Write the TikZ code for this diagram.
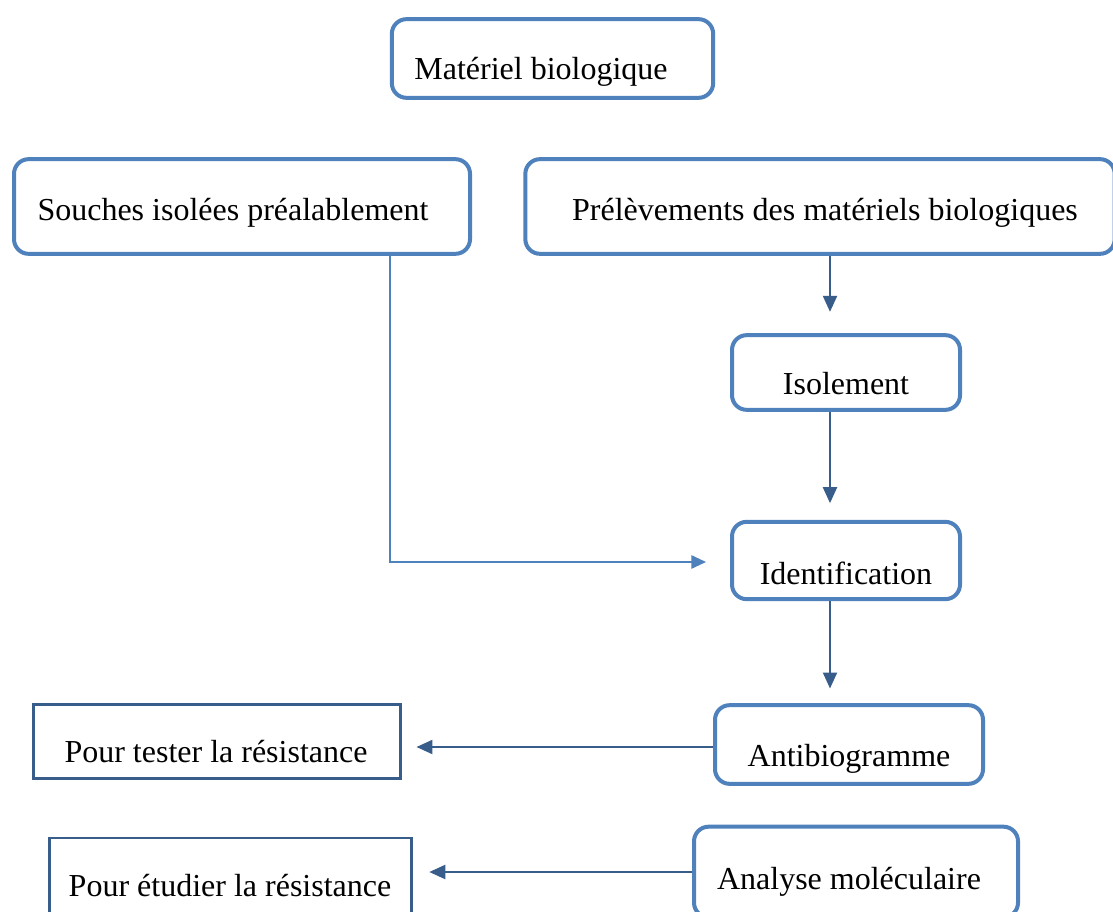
\documentclass[tikz,border=0pt]{standalone}
\usepackage{fontspec}
\setmainfont{Liberation Serif}
\usetikzlibrary{arrows.meta}
\definecolor{boxblue}{RGB}{79,129,189}
\definecolor{darkblue}{RGB}{56,93,138}
\begin{document}
\begin{tikzpicture}[x=0.75pt,y=-0.75pt,
 rbox/.style={draw=boxblue, line width=3pt, rounded corners=11pt, fill=white, inner sep=0pt},
 sbox/.style={draw=darkblue, line width=2.2pt, fill=white, inner sep=0pt},
 lbl/.style={font=\fontsize{24}{28}\selectfont, inner sep=0pt, anchor=base},
 arr/.style={draw=darkblue, line width=1.6pt, -{Triangle[length=12pt,width=10.5pt]}},
 larr/.style={draw=boxblue, line width=1.3pt, -{Triangle[length=11pt,width=10pt]}},
]
\useasboundingbox (0,0) rectangle (1113,912);
\clip (0,0) rectangle (1113,912);
\fill[white] (0,0) rectangle (1113,912);

% boxes
\node[rbox, minimum width=241pt, minimum height=59pt] (mat) at (552.5,58.5) {};
\node[rbox, minimum width=342pt, minimum height=71pt] (sou) at (242,206.5) {};
\node[rbox, minimum width=442pt, minimum height=71pt] (pre) at (820,206.5) {};
\node[rbox, minimum width=171pt, minimum height=56pt] (iso) at (846,372.5) {};
\node[rbox, minimum width=171pt, minimum height=58pt] (ide) at (846,560.5) {};
\node[rbox, minimum width=201pt, minimum height=59pt] (ant) at (849,744.5) {};
\node[rbox, minimum width=243pt, minimum height=68pt] (ana) at (856,872) {};
\node[sbox, minimum width=275pt, minimum height=55.5pt] (tes) at (217,741.5) {};
\node[sbox, minimum width=272pt, minimum height=63pt] (etu) at (230.5,880) {};

% texts
\node[lbl] (tmat) at (541,80) {Matériel biologique};
\node[lbl] (tsou) at (233,221) {Souches isolées préalablement};
\node[lbl] (tpre) at (825,221) {Prélèvements des matériels biologiques};
\node[lbl] (tiso) at (846,395) {Isolement};
\node[lbl] (tide) at (846,584) {Identification};
\node[lbl] (tant) at (849,766) {Antibiogramme};
\node[lbl] (tana) at (849,889) {Analyse moléculaire};
\node[lbl] (ttes) at (216,762) {Pour tester la résistance};
\node[lbl] (tetu) at (230,896) {Pour étudier la résistance};

% connectors
\coordinate (cx) at (830,0);
\coordinate (sx) at (390,0);
\coordinate (ya) at (0,747);
\coordinate (yb) at (0,872);
\coordinate (yc) at (0,562);
\draw[arr, shorten >=16pt] (cx |- pre.south) -- (cx |- iso.north);
\draw[arr, shorten >=12.5pt] (cx |- iso.south) -- (cx |- ide.north);
\draw[arr, shorten >=11pt] (cx |- ide.south) -- (cx |- ant.north);
\draw[arr, shorten >=11pt] (ant.west |- ya) -- (tes.east |- ya);
\draw[arr, shorten >=12pt] (ana.west |- yb) -- (etu.east |- yb);
\coordinate (corner) at (sx |- yc);
\draw[larr, shorten >=18pt] (sx |- sou.south) -- (corner) -- (ide.west |- yc);
\end{tikzpicture}
\end{document}
